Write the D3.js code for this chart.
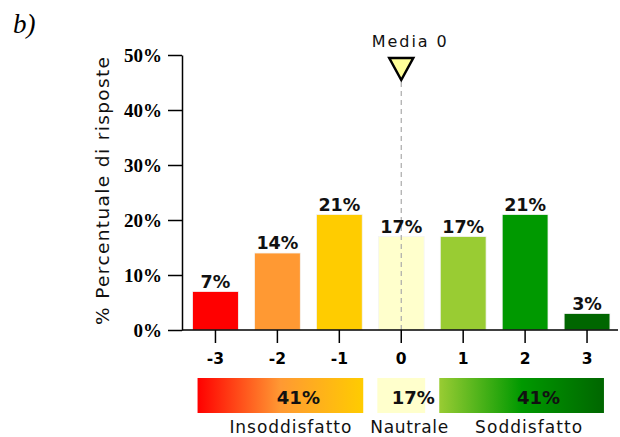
<!DOCTYPE html>
<html lang="it">
<head>
<meta charset="UTF-8" />
<script src="https://d3js.org/d3.v7.min.js"></script>
<style>
  body { margin: 0; background: #fff; }
  svg { display: block; font-family: "DejaVu Sans", Verdana, sans-serif; }
</style>
</head>
<body>
<svg id="chart" width="620" height="437"></svg>
<script>
  // dati
  const categories = ["-3", "-2", "-1", "0", "1", "2", "3"];
  const values = [7, 14, 21, 17, 17, 21, 3];
  const barColors = ["#ff0000", "#ff9933", "#ffcc00", "#ffffcc", "#99cc33", "#009900", "#006600"];
  const yTicks = [0, 10, 20, 30, 40, 50];
  const mediaValue = "0";
  const groupLabels = ["Insoddisfatto", "Nautrale", "Soddisfatto"];
  const groupValues = [41, 17, 41];
  const groupFrom = ["-3", "0", "1"];
  const groupTo = ["-1", "0", "3"];
  const groupStops = [["#ff0000", "#ff9933", "#ffcc00"], ["#ffffcc", "#ffffcc"], ["#99cc33", "#009900", "#006600"]];

  const svg = d3.select("#chart");
  const plotLeft = 182, plotRight = 618, plotTop = 55, plotBottom = 330;

  const x = d3.scaleBand().domain(categories).range([plotLeft + 2.5, plotRight]).paddingInner(0.26).paddingOuter(0.13);
  const y = d3.scaleLinear().domain([0, 50]).range([plotBottom, plotTop]);

  svg.append("text")
    .attr("x", 13).attr("y", 33)
    .attr("font-family", "'Liberation Serif', 'Times New Roman', serif")
    .attr("font-style", "italic").attr("font-size", 27)
    .text("b)");

  // barre
  svg.append("g").selectAll("rect")
    .data(values)
    .join("rect")
    .attr("x", (d, i) => x(categories[i]))
    .attr("y", d => y(d))
    .attr("width", x.bandwidth())
    .attr("height", d => y(0) - y(d))
    .attr("fill", (d, i) => barColors[i])
    .attr("stroke", "#f4f4f4").attr("stroke-width", 0.8);

  // linea media
  const mx = x(mediaValue) + x.bandwidth() / 2;
  svg.append("line")
    .attr("x1", mx).attr("x2", mx).attr("y1", 82).attr("y2", plotBottom)
    .attr("stroke", "#aaa").attr("stroke-width", 1.2).attr("stroke-dasharray", "5,4");

  // etichette valori
  svg.append("g").selectAll("text")
    .data(values)
    .join("text")
    .attr("x", (d, i) => x(categories[i]) + x.bandwidth() / 2)
    .attr("y", d => y(d) - 4)
    .attr("text-anchor", "middle")
    .attr("font-weight", "bold").attr("font-size", 17.5)
    .attr("fill", "#111")
    .text(d => d + "%");

  // asse y
  const yAxis = svg.append("g")
    .attr("transform", `translate(${plotLeft},0)`)
    .call(d3.axisLeft(y).tickValues(yTicks).tickFormat(d => d + "%").tickSize(14).tickSizeOuter(0).tickPadding(6));
  yAxis.select(".domain").attr("stroke", "#000").attr("stroke-width", 1.5);
  yAxis.selectAll(".tick line").attr("stroke", "#000").attr("stroke-width", 1.5);
  yAxis.selectAll(".tick text")
    .attr("font-family", "'Liberation Serif', 'Times New Roman', serif")
    .attr("font-weight", "bold").attr("font-size", 19).attr("fill", "#000");

  // asse x
  const xAxis = svg.append("g")
    .attr("transform", `translate(0,${plotBottom})`)
    .call(d3.axisBottom(x).tickSize(13).tickSizeOuter(0).tickPadding(10));
  xAxis.select(".domain").attr("d", `M${plotLeft},0H${plotRight}`).attr("stroke", "#000").attr("stroke-width", 1.5);
  xAxis.selectAll(".tick line").attr("stroke", "#000").attr("stroke-width", 1.5);
  xAxis.selectAll(".tick text")
    .attr("font-family", "'DejaVu Sans', Verdana, sans-serif")
    .attr("font-weight", "bold").attr("font-size", 15.5).attr("fill", "#000");

  // titolo asse y
  svg.append("text")
    .attr("transform", `translate(109,${(57 + 325) / 2}) rotate(-90)`)
    .attr("text-anchor", "middle")
    .attr("font-size", 18.5).attr("fill", "#111")
    .attr("textLength", 268).attr("lengthAdjust", "spacing")
    .text("% Percentuale di risposte");

  // triangolo media
  svg.append("path")
    .attr("d", `M${mx - 12},58L${mx + 12},58L${mx},80Z`)
    .attr("fill", "#ffff99").attr("stroke", "#000").attr("stroke-width", 2.5)
    .attr("stroke-linejoin", "miter");
  svg.append("text")
    .attr("x", mx + 8).attr("y", 47)
    .attr("text-anchor", "middle").attr("font-size", 16).attr("fill", "#111")
    .attr("textLength", 75).attr("lengthAdjust", "spacing")
    .text("Media " + mediaValue);

  // barre di gruppo
  const defs = svg.append("defs");
  groupStops.forEach((stops, i) => {
    const g = defs.append("linearGradient").attr("id", "grad" + i);
    stops.forEach((c, j) => g.append("stop").attr("offset", j / (stops.length - 1)).attr("stop-color", c));
  });
  const gx0 = (i) => x(groupFrom[i]) + (i === 0 ? 5 : -1);
  const gx1 = (i) => x(groupTo[i]) + x.bandwidth() + (i === 2 ? -6 : 1);

  svg.append("g").selectAll("rect")
    .data(groupValues)
    .join("rect")
    .attr("x", (d, i) => gx0(i))
    .attr("y", 378)
    .attr("width", (d, i) => gx1(i) - gx0(i))
    .attr("height", 35)
    .attr("fill", (d, i) => `url(#grad${i})`);

  const valueShift = [18, 12, 17];
  svg.append("g").selectAll("text")
    .data(groupValues)
    .join("text")
    .attr("x", (d, i) => (gx0(i) + gx1(i)) / 2 + valueShift[i])
    .attr("y", 404)
    .attr("text-anchor", "middle")
    .attr("font-weight", "bold").attr("font-size", 18).attr("fill", "#111")
    .text(d => d + "%");

  const labelShift = [10, 8, 7];
  const labelWidth = [122, 78, 107];
  svg.append("g").selectAll("text")
    .data(groupLabels)
    .join("text")
    .attr("x", (d, i) => (gx0(i) + gx1(i)) / 2 + labelShift[i])
    .attr("y", 433)
    .attr("text-anchor", "middle")
    .attr("font-size", 17).attr("fill", "#111")
    .attr("textLength", (d, i) => labelWidth[i]).attr("lengthAdjust", "spacing")
    .text(d => d);
</script>
</body>
</html>
